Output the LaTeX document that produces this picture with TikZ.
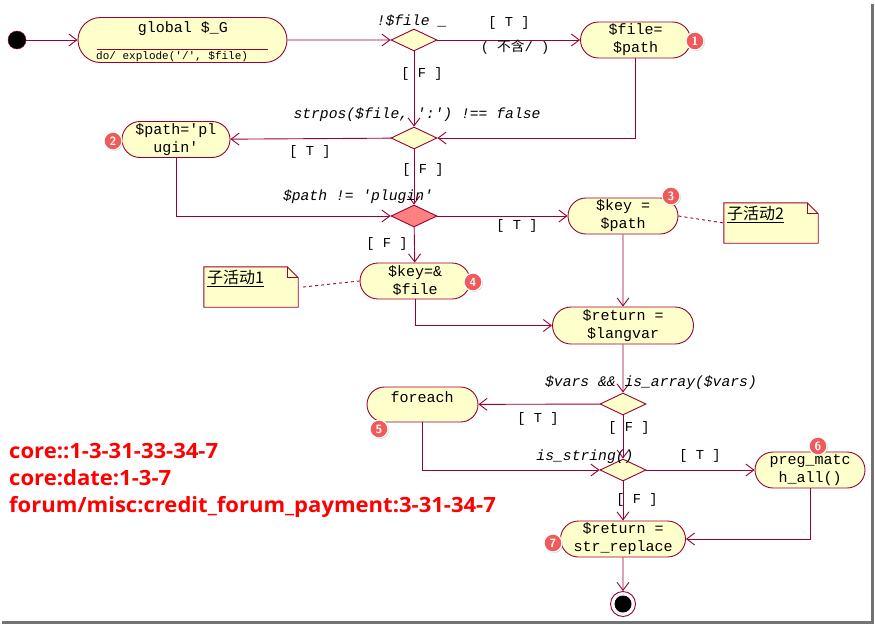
\documentclass[tikz,border=0pt]{standalone}
\usepackage{fontspec}
\setmonofont{Liberation Mono}
\newfontfamily\cjkfont{Noto Sans CJK SC}
\newfontfamily\routefont[FakeStretch=1.05]{Open Sans}
\usetikzlibrary{shapes.geometric,shapes.misc,arrows.meta,shadows}

\definecolor{umlline}{RGB}{153,0,51}
\definecolor{umlfill}{RGB}{255,255,204}
\definecolor{hotfill}{RGB}{255,128,128}
\definecolor{badgered}{RGB}{240,90,90}
\definecolor{routered}{RGB}{255,0,0}

\begin{document}
\begin{tikzpicture}[x=1pt, y=-1pt,
    action/.style={rounded rectangle, draw=umlline, fill=umlfill, line width=0.9pt, align=center, inner sep=0pt, font=\ttfamily\fontsize{15}{18}\selectfont},
    decision/.style={diamond, draw=umlline, fill=umlfill, line width=0.9pt, minimum width=46pt, minimum height=22pt, inner sep=0pt},
    guard/.style={font=\ttfamily\fontsize{13.7}{16}\selectfont, inner sep=0pt},
    cond/.style={font=\ttfamily\itshape\fontsize{14.7}{16}\selectfont, inner sep=0pt},
    flow/.style={draw=umlline, line width=0.9pt, -{Straight Barb[length=8pt,width=12pt]}},
    notebox/.style={minimum width=94pt, minimum height=40pt, inner sep=0pt},
    notefold/.style={draw=umlline, fill=umlfill, line width=0.9pt},
    notetext/.style={anchor=north west, inner sep=0pt, font=\cjkfont\fontsize{16}{18}\selectfont},
    notelink/.style={draw=umlline, line width=0.9pt, dashed},
    badge/.style={circle, fill=badgered, draw=white, line width=1.2pt, minimum size=18pt, inner sep=0pt, text=white, font=\sffamily\bfseries\fontsize{12}{12}\selectfont, drop shadow={opacity=0.35, shadow xshift=1pt, shadow yshift=-1pt}}
]
    \useasboundingbox (0,0) rectangle (875,624);
    % Frame shadow
    \draw[line width=3pt, black!55] (872.5,4) -- (872.5,622.5) -- (2,622.5);

    % Start and end
    \node[circle, fill=black, draw=umlline, minimum size=18pt, inner sep=0pt] (start) at (17,40) {};
    \node[circle, draw=umlline, fill=white, line width=0.9pt, minimum size=25pt, inner sep=0pt,
          path picture={\fill[black] (path picture bounding box.center) circle (8.5pt);}] (stop) at (623,604) {};

    % Actions
    \node[action, minimum width=209pt, minimum height=45pt] (glob) at (182.5,40) {};
    \node[font=\ttfamily\fontsize{15}{18}\selectfont, inner sep=0pt] (globname) at (183,29) {global \$\_G};
    \draw[umlline, line width=0.9pt] ([shift={(19pt,-9pt)}]glob.west) -- ([shift={(-19pt,-9pt)}]glob.east);
    \node[anchor=west, font=\ttfamily\fontsize{11}{12}\selectfont, inner sep=0pt] (globdo) at (96,57) {do/ explode('/', \$file)};
    \node[action, minimum width=110pt, minimum height=36pt] (fileset) at (635.5,40) {\$file=\\\$path};
    \node[action, minimum width=108pt, minimum height=36pt] (pathset) at (176,139.5) {\$path='pl\\ugin'};
    \node[action, minimum width=110pt, minimum height=36pt] (keyset) at (623,216) {\$key =\\\$path};
    \node[action, minimum width=110pt, minimum height=36pt] (keyref) at (415,281) {\$key=\&\\\$file};
    \node[action, minimum width=141pt, minimum height=37pt] (ret1) at (623,325.5) {\$return =\\\$langvar};
    \node[action, minimum width=111pt, minimum height=35pt] (loop) at (422.5,404.5) {};
    \node[font=\ttfamily\fontsize{15}{18}\selectfont, inner sep=0pt] (looptext) at (422,397) {foreach};
    \node[action, minimum width=110pt, minimum height=36pt] (preg) at (810,470) {preg\_matc\\h\_all()};
    \node[action, minimum width=125pt, minimum height=36pt] (ret2) at (623,539) {\$return =\\str\_replace};

    % Decisions
    \node[decision] (dec1) at (414,40) {};
    \node[decision] (dec2) at (414,138) {};
    \node[decision, fill=hotfill] (dec3) at (414,216) {};
    \node[decision] (dec4) at (623,404) {};
    \node[decision] (dec5) at (623,470) {};

    % Notes
    \node[notebox] (note1) at (251,287) {};
    \filldraw[notefold] (note1.south west) -- (note1.north west) -- ([xshift=-11pt]note1.north east)
        -- ([yshift=-11pt]note1.north east) -- (note1.south east) -- cycle;
    \draw[umlline, line width=0.9pt] ([xshift=-11pt]note1.north east) |- ([yshift=-11pt]note1.north east);
    \node[notetext] (note1text) at ([shift={(3pt,-3pt)}]note1.north west) {\underline{子活动1}};
    \node[notebox] (note2) at (771,223) {};
    \filldraw[notefold] (note2.south west) -- (note2.north west) -- ([xshift=-11pt]note2.north east)
        -- ([yshift=-11pt]note2.north east) -- (note2.south east) -- cycle;
    \draw[umlline, line width=0.9pt] ([xshift=-11pt]note2.north east) |- ([yshift=-11pt]note2.north east);
    \node[notetext] (note2text) at ([shift={(3pt,-3pt)}]note2.north west) {\underline{子活动2}};
    \draw[notelink] (note1.east) ++(5pt,0) coordinate (n1end) (n1end) -- (keyref.west);
    \draw[notelink] (keyset.east) -- (note2.west);

    % Flows
    \draw[flow] (start) -- (glob);
    \draw[flow] (glob) -- (dec1);
    \draw[flow] (dec1) -- (fileset);
    \draw[flow] (dec1) -- (dec2);
    \draw[flow] (fileset.south) |- (dec2.east);
    \draw[flow] (dec2) -- (pathset);
    \draw[flow] (dec2) -- (dec3);
    \draw[flow] (pathset.south) |- (dec3.west);
    \draw[flow] (dec3) -- (keyset);
    \draw[flow] (dec3) -- (keyref);
    \draw[flow] (keyset) -- (ret1);
    \draw[flow] (keyref.south) |- (ret1.west);
    \draw[flow] (ret1) -- (dec4);
    \draw[flow] (dec4) -- (loop);
    \draw[flow] (dec4) -- (dec5);
    \draw[flow] (loop.south) |- (dec5.west);
    \draw[flow] (dec5) -- (preg);
    \draw[flow] (dec5) -- (ret2);
    \draw[flow] (preg.south) |- (ret2.east);
    \draw[flow] (ret2) -- (stop);

    % Guards and conditions
    \node[cond] (c1) at (412,21) {!\$file \_};
    \node[guard] (g1t) at (509,23) {[ T ]};
    \node[guard] (g1n) at (515,47) {( {\cjkfont 不含}/ )};
    \node[guard] (g1f) at (422,74) {[ F ]};
    \node[cond] (c2) at (417,115) {strpos(\$file, ':') !== false};
    \node[guard] (g2t) at (310,152) {[ T ]};
    \node[guard] (g2f) at (423,170) {[ F ]};
    \node[cond] (c3) at (358,197) {\$path != 'plugin'};
    \node[guard] (g3t) at (517,226) {[ T ]};
    \node[guard] (g3f) at (387,244) {[ F ]};
    \node[cond] (c4) at (651,383) {\$vars \&\& is\_array(\$vars)};
    \node[guard] (g4t) at (538,419) {[ T ]};
    \node[guard] (g4f) at (629,428) {[ F ]};
    \node[cond] (c5) at (585,457) {is\_string()};
    \node[guard] (g5t) at (700,456) {[ T ]};
    \node[guard] (g5f) at (637,500) {[ F ]};

    % Badges
    \node[badge] (b1) at (695,41) {1};
    \node[badge] (b2) at (113,141) {2};
    \node[badge] (b3) at (671,196) {3};
    \node[badge] (b4) at (473,282) {4};
    \node[badge] (b5) at (379,429) {5};
    \node[badge] (b6) at (818,446) {6};
    \node[badge] (b7) at (553,543) {7};

    % Routes
    \node[anchor=west, align=left, inner sep=0pt, text=routered, font=\routefont\bfseries\fontsize{21}{27}\selectfont] (routes) at (9,480)
        {core::1-3-31-33-34-7\\core:date:1-3-7\\forum/misc:credit\_forum\_payment:3-31-34-7};
\end{tikzpicture}
\end{document}
